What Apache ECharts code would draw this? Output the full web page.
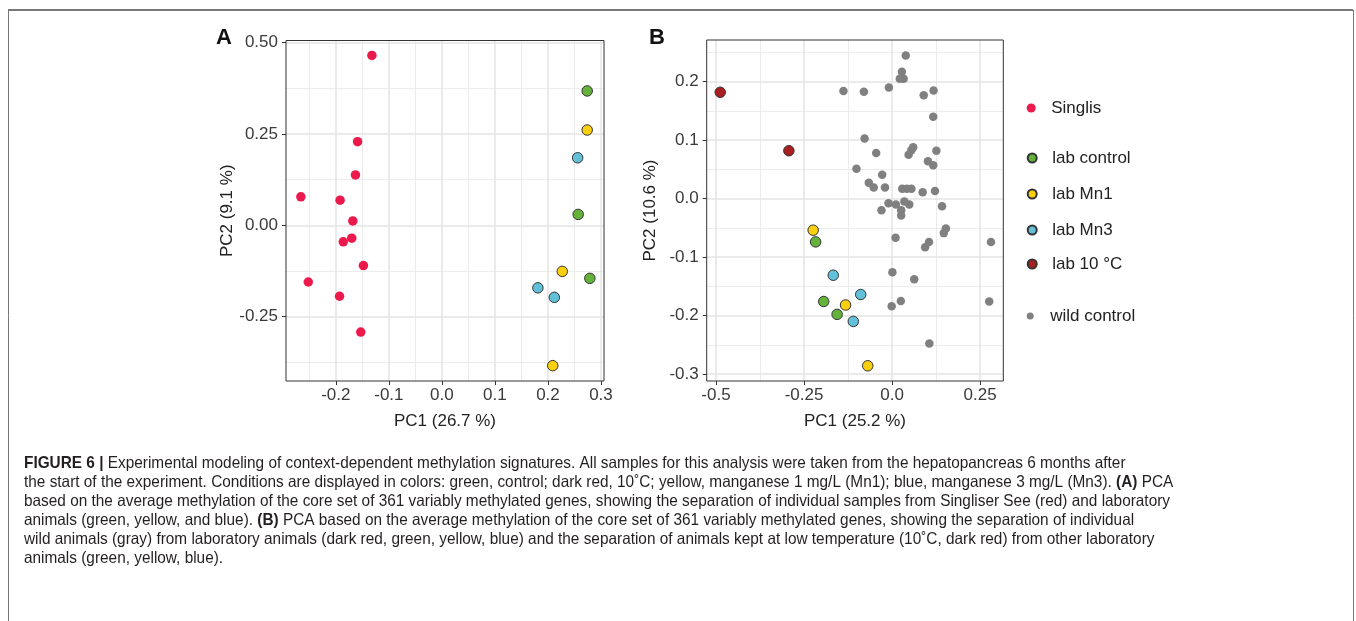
<!DOCTYPE html>
<html>
<head>
<meta charset="utf-8">
<script src="https://cdn.jsdelivr.net/npm/echarts@6/dist/echarts.min.js"></script>
<style>
html,body{margin:0;padding:0;background:#fff;}
#chart{width:1356px;height:621px;}
</style>
</head>
<body>
<div id="chart"></div>
<script>
// ---------------- DATA ----------------
// Panel A: [PC1, PC2]
const singlisA = [[-0.132,0.465],[-0.159,0.229],[-0.163,0.138],[-0.266,0.078],[-0.192,0.069],[-0.168,0.012],
  [-0.186,-0.045],[-0.170,-0.035],[-0.148,-0.110],[-0.252,-0.155],[-0.193,-0.194],[-0.153,-0.292]];
const labControlA = [[0.274,0.368],[0.257,0.030],[0.279,-0.145]];
const labMn1A = [[0.274,0.261],[0.227,-0.126],[0.209,-0.384]];
const labMn3A = [[0.256,0.185],[0.181,-0.171],[0.212,-0.197]];

// Panel B: [PC1, PC2]
const lab10CB = [[-0.488,0.182],[-0.293,0.082]];
const labControlB = [[-0.217,-0.074],[-0.194,-0.176],[-0.156,-0.198]];
const labMn1B = [[-0.224,-0.054],[-0.132,-0.182],[-0.069,-0.286]];
const labMn3B = [[-0.167,-0.131],[-0.089,-0.164],[-0.110,-0.210]];
const wildB = [[0.039,0.245],[0.028,0.217],[0.022,0.205],[0.033,0.205],[-0.138,0.184],[-0.080,0.183],
  [-0.009,0.190],[0.090,0.177],[0.118,0.185],[0.117,0.140],[-0.078,0.103],[-0.045,0.078],
  [0.060,0.088],[0.055,0.083],[0.047,0.075],[0.126,0.082],[0.102,0.064],[0.117,0.057],
  [-0.101,0.051],[-0.028,0.041],[-0.066,0.027],[-0.052,0.019],[-0.020,0.019],[0.029,0.017],
  [0.042,0.017],[0.055,0.017],[0.087,0.011],[0.122,0.013],[-0.010,-0.008],[0.011,-0.010],
  [0.035,-0.005],[0.049,-0.010],[0.026,-0.020],[0.026,-0.029],[-0.030,-0.020],[0.142,-0.013],
  [0.153,-0.051],[0.147,-0.059],[0.010,-0.067],[0.281,-0.074],[0.105,-0.074],[0.094,-0.083],
  [0.001,-0.126],[0.063,-0.138],[0.025,-0.175],[-0.001,-0.184],[0.276,-0.176],[0.106,-0.248]];

// Ticks
const xTicksA = [-0.2,-0.1,0,0.1,0.2,0.3];
const xTickLabelsA = ['-0.2','-0.1','0.0','0.1','0.2','0.3'];
const yTicksA = [-0.25,0,0.25,0.5];
const yTickLabelsA = ['-0.25','0.00','0.25','0.50'];
const xMinorA = [-0.25,-0.15,-0.05,0.05,0.15,0.25];
const yMinorA = [-0.375,-0.125,0.125,0.375];
const xTicksB = [-0.5,-0.25,0,0.25];
const xTickLabelsB = ['-0.5','-0.25','0.0','0.25'];
const yTicksB = [-0.3,-0.2,-0.1,0,0.1,0.2];
const yTickLabelsB = ['-0.3','-0.2','-0.1','0.0','0.1','0.2'];
const xMinorB = [-0.375,-0.125,0.125];
const yMinorB = [-0.25,-0.15,-0.05,0.05,0.15,0.25];

const axisNames = {xA:'PC1 (26.7 %)', yA:'PC2 (9.1 %)', xB:'PC1 (25.2 %)', yB:'PC2 (10.6 %)'};
const seriesNames = ['Singlis','lab control','lab Mn1','lab Mn3','lab 10 °C','wild control'];

const captionLines = [
 '{b|FIGURE 6 |} Experimental modeling of context-dependent methylation signatures. All samples for this analysis were taken from the hepatopancreas 6 months after',
 'the start of the experiment. Conditions are displayed in colors: green, control; dark red, 10\u02DAC; yellow, manganese 1 mg/L (Mn1); blue, manganese 3 mg/L (Mn3). {b|(A)} PCA',
 'based on the average methylation of the core set of 361 variably methylated genes, showing the separation of individual samples from Singliser See (red) and laboratory',
 'animals (green, yellow, and blue). {b|(B)} PCA based on the average methylation of the core set of 361 variably methylated genes, showing the separation of individual',
 'wild animals (gray) from laboratory animals (dark red, green, yellow, blue) and the separation of animals kept at low temperature (10\u02DAC, dark red) from other laboratory',
 'animals (green, yellow, blue).'
];

// ---------------- STYLE ----------------
const FONT = '"Liberation Sans", Arial, Helvetica, sans-serif';
const CAPFONT = '"Liberation Sans Narrow", "Liberation Sans", Arial, sans-serif';
const colors = {
  'Singlis':'#ec1a4c', 'lab control':'#64b23a', 'lab Mn1':'#f9cf0e',
  'lab Mn3':'#62c1d8', 'lab 10 °C':'#a71f1f', 'wild control':'#808080'
};

function fmt(ticks, labels){
  return function(v){
    for (let i=0;i<ticks.length;i++){ if (Math.abs(ticks[i]-v)<1e-9) return labels[i]; }
    return '';
  };
}

function majorX(grid, min, max, ticks, labels, name){
  return {
    type:'value', gridIndex:grid, min:min, max:max, z:1, position:'bottom',
    name:name, nameLocation:'middle', nameGap:32,
    nameTextStyle:{fontSize:17, color:'#222', fontFamily:FONT},
    axisLine:{show:false, onZero:false},
    axisTick:{show:true, inside:false, length:4, lineStyle:{color:'#333', width:1}, customValues:ticks},
    axisLabel:{show:true, fontSize:17, color:'#3a3a3a', fontFamily:FONT, margin:6, customValues:ticks, formatter:fmt(ticks, labels)},
    splitLine:{show:true, lineStyle:{color:'#e4e4e4', width:1.5}}
  };
}
function majorY(grid, min, max, ticks, labels, name, gap){
  return {
    type:'value', gridIndex:grid, min:min, max:max, z:1, position:'left',
    name:name, nameLocation:'middle', nameGap:gap, nameRotate:90,
    nameTextStyle:{fontSize:17, color:'#222', fontFamily:FONT},
    axisLine:{show:false, onZero:false},
    axisTick:{show:true, inside:false, length:4, lineStyle:{color:'#333', width:1}, customValues:ticks},
    axisLabel:{show:true, fontSize:17, color:'#3a3a3a', fontFamily:FONT, margin:8, customValues:ticks, formatter:fmt(ticks, labels)},
    splitLine:{show:true, lineStyle:{color:'#e4e4e4', width:1.5}}
  };
}
function minorAxis(grid, min, max, ticks, pos){
  return {
    type:'value', gridIndex:grid, min:min, max:max, z:0, position:pos,
    axisLine:{show:false, onZero:false},
    axisTick:{show:false, customValues:ticks},
    axisLabel:{show:false, customValues:ticks},
    splitLine:{show:true, lineStyle:{color:'#ececec', width:1}}
  };
}

const extA = {x:[-0.294,0.3057], y:[-0.426,0.506]};
const extB = {x:[-0.5264,0.316], y:[-0.312,0.2714]};

function scatter(name, data, xi, yi, size, bordered){
  return {
    type:'scatter', name:name, data:data, xAxisIndex:xi, yAxisIndex:yi, z:5,
    symbol:'circle', symbolSize:size,
    itemStyle:{color:colors[name], borderColor: bordered ? '#333' : colors[name], borderWidth: bordered ? 1 : 0, opacity:1},
    emphasis:{disabled:true}
  };
}

// caption scale (condensed look)
const mctx = document.createElement('canvas').getContext('2d');
const CAPSIZE = 16.5;
mctx.font = CAPSIZE + 'px ' + CAPFONT;
const capScale = 1146 / mctx.measureText(captionLines[2]).width;

const graphics = [
  {type:'line', shape:{x1:8, y1:10, x2:1353, y2:10}, style:{stroke:'#777', lineWidth:2}, silent:true},
  {type:'line', shape:{x1:8.5, y1:10, x2:8.5, y2:621}, style:{stroke:'#777', lineWidth:1}, silent:true},
  {type:'line', shape:{x1:1353.5, y1:10, x2:1353.5, y2:621}, style:{stroke:'#777', lineWidth:1}, silent:true},
  {type:'text', x:224, y:38, style:{text:'A', fontSize:22, fontWeight:'bold', fontFamily:FONT, fill:'#111', align:'center', verticalAlign:'middle'}, silent:true},
  {type:'text', x:657, y:38, style:{text:'B', fontSize:22, fontWeight:'bold', fontFamily:FONT, fill:'#111', align:'center', verticalAlign:'middle'}, silent:true}
];
captionLines.forEach(function(line, i){
  graphics.push({
    type:'text', x:24, y:463 + i*19, scaleX:capScale, silent:true,
    style:{text:line, fontSize:CAPSIZE, fontFamily:CAPFONT, fill:'#231f20', verticalAlign:'middle', align:'left',
      rich:{b:{fontSize:CAPSIZE, fontFamily:CAPFONT, fontWeight:'bold', fill:'#231f20'}}}
  });
});

const legendCenters = [108, 158, 194, 230, 264, 316];
const legends = seriesNames.map(function(n, i){
  const h = n === 'wild control' ? 7 : 9;
  return {
    data:[n], left:1026.7, top:legendCenters[i]-9, orient:'vertical', padding:0,
    itemWidth:30, itemHeight:h, icon:'circle', selectedMode:false,
    textStyle:{fontSize:17, color:'#222', fontFamily:FONT, lineHeight:18}
  };
});

const option = {
  animation:false,
  backgroundColor:'#fff',
  grid:[
    {left:286, top:40.5, width:318, height:340.5, show:true, borderColor:'#333', borderWidth:1, z:3, backgroundColor:'transparent'},
    {left:706.7, top:40, width:296.6, height:341, show:true, borderColor:'#333', borderWidth:1, z:3, backgroundColor:'transparent'}
  ],
  xAxis:[
    majorX(0, extA.x[0], extA.x[1], xTicksA, xTickLabelsA, axisNames.xA),
    majorX(1, extB.x[0], extB.x[1], xTicksB, xTickLabelsB, axisNames.xB),
    minorAxis(0, extA.x[0], extA.x[1], xMinorA, 'top'),
    minorAxis(1, extB.x[0], extB.x[1], xMinorB, 'top')
  ],
  yAxis:[
    majorY(0, extA.y[0], extA.y[1], yTicksA, yTickLabelsA, axisNames.yA, 50),
    majorY(1, extB.y[0], extB.y[1], yTicksB, yTickLabelsB, axisNames.yB, 48),
    minorAxis(0, extA.y[0], extA.y[1], yMinorA, 'right'),
    minorAxis(1, extB.y[0], extB.y[1], yMinorB, 'right')
  ],
  legend:legends,
  graphic:graphics,
  series:[
    scatter('Singlis', singlisA, 0, 0, 9.5, false),
    scatter('lab control', labControlA, 0, 0, 10.5, true),
    scatter('lab Mn1', labMn1A, 0, 0, 10.5, true),
    scatter('lab Mn3', labMn3A, 0, 0, 10.5, true),
    scatter('wild control', wildB, 1, 1, 8.5, false),
    scatter('lab 10 °C', lab10CB, 1, 1, 10.5, true),
    scatter('lab control', labControlB, 1, 1, 10.5, true),
    scatter('lab Mn1', labMn1B, 1, 1, 10.5, true),
    scatter('lab Mn3', labMn3B, 1, 1, 10.5, true)
  ]
};

const chart = echarts.init(document.getElementById('chart'), null, {renderer:'canvas'});
chart.setOption(option);
</script>
</body>
</html>
